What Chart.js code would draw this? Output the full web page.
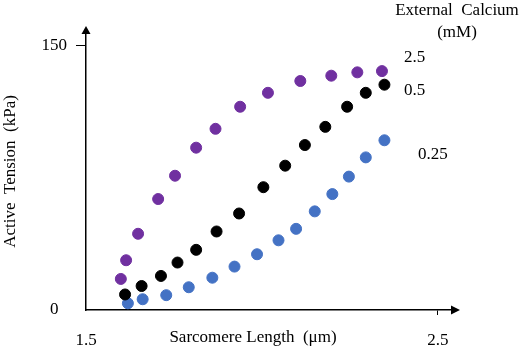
<!DOCTYPE html>
<html lang="en">
<head>
<meta charset="UTF-8">
<title>Active Tension vs Sarcomere Length</title>
<script src="https://cdn.jsdelivr.net/npm/chart.js"></script>
<style>
    body { margin: 0; background: #fff; }
    #wrap { width: 523px; height: 349px; position: relative; }
</style>
</head>
<body>
<div id="wrap"><canvas id="tensionChart"></canvas></div>
<script>
    // sarcomere length (um) and active tension (kPa), one pair of arrays per calcium level
    const len25 = [1.599, 1.614, 1.648, 1.705, 1.753, 1.813, 1.868, 1.938, 2.017, 2.109, 2.197, 2.271, 2.341];
    const ten25 = [17.6, 28.2, 43.2, 62.9, 76.1, 92.0, 102.7, 115.2, 123.1, 129.8, 132.8, 134.7, 135.4];

    const len05 = [1.611, 1.658, 1.713, 1.760, 1.813, 1.871, 1.935, 2.004, 2.066, 2.122, 2.180, 2.242, 2.295, 2.348];
    const ten05 = [8.8, 13.6, 19.3, 26.9, 34.1, 44.5, 54.7, 69.6, 81.8, 93.5, 103.8, 115.2, 123.1, 127.7];

    const len025 = [1.619, 1.661, 1.728, 1.792, 1.859, 1.922, 1.986, 2.047, 2.097, 2.150, 2.200, 2.247, 2.295, 2.348];
    const ten025 = [3.8, 6.1, 8.4, 12.9, 18.3, 24.6, 31.6, 39.5, 46.0, 55.9, 65.7, 75.6, 86.5, 96.2];

    const seriesLabels = ['2.5', '0.5', '0.25'];
    const legendTitle = ['External  Calcium', '(mM)'];
    const xTitle = 'Sarcomere Length  (\u03bcm)';
    const xTicks = [1.5, 2.5];
    const yTicks = [0, 150];

    const toPoints = (xs, ys) => xs.map((x, i) => ({ x: x, y: ys[i] }));
    const serif = 'Liberation Serif, "Times New Roman", serif';

    // arrow heads on the axes, the x title and the calcium labels at the right
    const extras = {
        id: 'extras',
        afterDraw(chart) {
            const { ctx, chartArea: a } = chart;
            ctx.save();
            ctx.fillStyle = '#000';
            ctx.beginPath();
            ctx.moveTo(a.left - 4.5, a.top + 1);
            ctx.lineTo(a.left + 4.5, a.top + 1);
            ctx.lineTo(a.left, a.top - 7);
            ctx.closePath();
            ctx.fill();
            ctx.beginPath();
            ctx.moveTo(a.right - 1, a.bottom - 4.5);
            ctx.lineTo(a.right - 1, a.bottom + 4.5);
            ctx.lineTo(a.right + 8, a.bottom);
            ctx.closePath();
            ctx.fill();

            ctx.font = '17px ' + serif;
            ctx.textBaseline = 'middle';
            ctx.textAlign = 'center';
            ctx.fillText(xTitle, 253, 338);
            ctx.fillText(legendTitle[0], 457, 11);
            ctx.fillText(legendTitle[1], 457, 33);
            ctx.textAlign = 'left';
            ctx.fillText(seriesLabels[0], 404, 58);
            ctx.fillText(seriesLabels[1], 404, 91);
            ctx.fillText(seriesLabels[2], 418, 155);
            ctx.restore();
        }
    };

    const ctx = document.getElementById('tensionChart').getContext('2d');
    new Chart(ctx, {
        type: 'scatter',
        data: {
            datasets: [
                { label: seriesLabels[0], data: toPoints(len25, ten25), backgroundColor: '#7030A0', borderColor: '#7030A0' },
                { label: seriesLabels[1], data: toPoints(len05, ten05), backgroundColor: '#000000', borderColor: '#000000' },
                { label: seriesLabels[2], data: toPoints(len025, ten025), backgroundColor: '#4472C4', borderColor: '#4472C4' }
            ]
        },
        options: {
            responsive: true,
            maintainAspectRatio: false,
            animation: false,
            elements: { point: { radius: 5.5, borderWidth: 1 } },
            layout: { padding: { left: 0, right: 71, top: 33, bottom: 0 } },
            plugins: { legend: { display: false }, tooltip: { enabled: false } },
            scales: {
                x: {
                    type: 'linear',
                    min: 1.5,
                    max: 2.54,
                    afterBuildTicks: s => { s.ticks = xTicks.map(v => ({ value: v })); },
                    afterFit: s => { s.height = 39; },
                    border: { display: true, color: '#000', width: 1.5 },
                    grid: {
                        drawOnChartArea: false,
                        drawTicks: true,
                        tickLength: 5,
                        color: c => (c.tick && c.tick.value === 1.5) ? 'rgba(0,0,0,0)' : '#000'
                    },
                    ticks: {
                        color: '#000',
                        padding: 15,
                        font: { family: serif, size: 17 },
                        callback: v => v.toFixed(1)
                    },
                    title: { display: false }
                },
                y: {
                    min: 0,
                    max: 157,
                    afterBuildTicks: s => { s.ticks = yTicks.map(v => ({ value: v })); },
                    afterFit: s => { s.width = 86; },
                    border: { display: true, color: '#000', width: 1.5 },
                    grid: {
                        drawOnChartArea: false,
                        drawTicks: true,
                        tickLength: 10,
                        color: c => (c.tick && c.tick.value === 0) ? 'rgba(0,0,0,0)' : '#000'
                    },
                    ticks: {
                        color: '#000',
                        padding: 9,
                        crossAlign: 'center',
                        font: { family: serif, size: 17 },
                        callback: v => String(v)
                    },
                    title: {
                        display: true,
                        text: 'Active  Tension  (kPa)',
                        color: '#000',
                        font: { family: serif, size: 17 },
                        padding: { top: 0, bottom: 0 }
                    }
                }
            }
        },
        plugins: [extras]
    });
</script>
</body>
</html>
